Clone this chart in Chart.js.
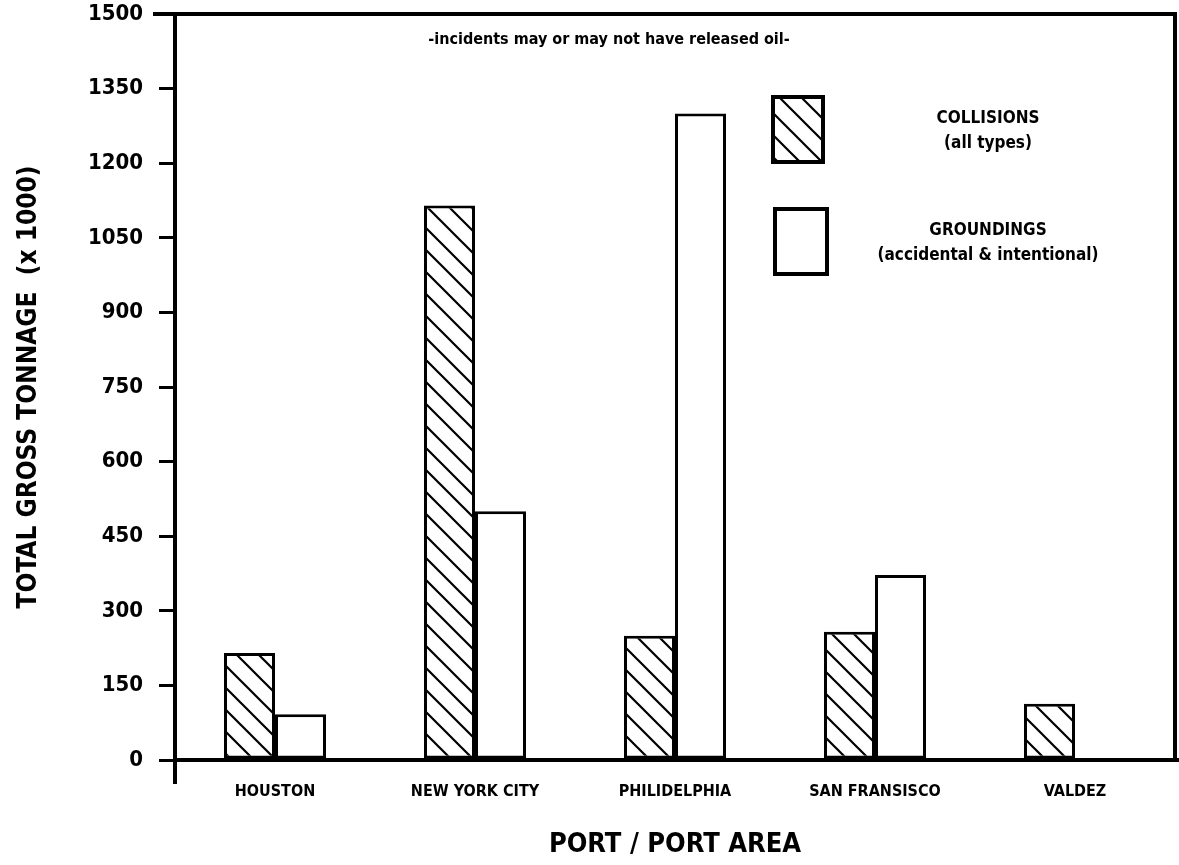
<!DOCTYPE html>
<html>
<head>
<meta charset="utf-8">
<script src="https://cdn.jsdelivr.net/npm/chart.js@4.4.0/dist/chart.umd.min.js"></script>
<style>
  html, body { margin: 0; padding: 0; background: #fff; }
</style>
</head>
<body>
<canvas id="chart" width="1179" height="865"></canvas>
<script>
// data (values in 1000s of gross tons)
const ports = ['HOUSTON', 'NEW YORK CITY', 'PHILIDELPHIA', 'SAN FRANSISCO', 'VALDEZ'];
const collisions = [215, 1115, 250, 258, 113];
const groundings = [92, 500, 1300, 372, 0];
const yTicks = [0, 150, 300, 450, 600, 750, 900, 1050, 1200, 1350, 1500];
const collisionsLabel = ['COLLISIONS', '(all types)'];
const groundingsLabel = ['GROUNDINGS', '(accidental & intentional)'];
const note = '-incidents may or may not have released oil-';

const FONT = "'Liberation Sans Narrow', 'DejaVu Sans Condensed', 'Roboto Condensed', sans-serif";

function initChart() {
    const canvas = document.getElementById('chart');
    const ctx = canvas.getContext('2d');

    // diagonal "\\\" hatch like the original
    const tile = document.createElement('canvas');
    tile.width = tile.height = 22;
    const g = tile.getContext('2d');
    g.fillStyle = '#fff'; g.fillRect(0, 0, 22, 22);
    g.strokeStyle = '#000'; g.lineWidth = 2.2;
    g.beginPath();
    g.moveTo(-3, -3); g.lineTo(25, 25);
    g.moveTo(-3, 19); g.lineTo(3, 25);
    g.moveTo(19, -3); g.lineTo(25, 3);
    g.stroke();
    const hatch = ctx.createPattern(tile, 'repeat');

    // frame, note text and the in-plot legend
    const decor = {
        id: 'decor',
        afterDraw(chart) {
            const c = chart.ctx, a = chart.chartArea;
            c.save();
            c.strokeStyle = '#000'; c.lineWidth = 4;
            c.beginPath();
            c.moveTo(a.left - 22, a.top); c.lineTo(a.right, a.top); c.lineTo(a.right, a.bottom);
            c.moveTo(a.right, a.bottom); c.lineTo(chart.width, a.bottom);
            c.moveTo(a.left, a.bottom); c.lineTo(a.left, a.bottom + 24);
            c.stroke();

            c.fillStyle = '#000';
            c.textAlign = 'center'; c.textBaseline = 'middle';
            c.font = 'bold 16px ' + FONT;
            c.fillText(note, 609, 40);

            const ds = chart.data.datasets;
            const boxes = [[773, 97, 50, 65], [775, 209, 52, 65]];
            const labels = [collisionsLabel, groundingsLabel];
            boxes.forEach(([x, y, w, h], i) => {
                c.fillStyle = ds[i].backgroundColor;
                c.fillRect(x, y, w, h);
                c.lineWidth = 4; c.strokeStyle = '#000';
                c.strokeRect(x, y, w, h);
                c.fillStyle = '#000';
                c.font = 'bold 17px ' + FONT;
                c.fillText(labels[i][0], 988, y + 22);
                c.fillText(labels[i][1], 988, y + 47);
            });
            c.restore();
        }
    };

    new Chart(ctx, {
        type: 'bar',
        data: {
            labels: ports,
            datasets: [
                { label: collisionsLabel.join(' '), data: collisions, backgroundColor: hatch,
                  borderColor: '#000', borderWidth: 3, borderSkipped: false },
                { label: groundingsLabel.join(' '), data: groundings, backgroundColor: '#fff',
                  borderColor: '#000', borderWidth: 3, borderSkipped: false }
            ]
        },
        options: {
            responsive: false,
            animation: false,
            devicePixelRatio: 1,
            categoryPercentage: 0.51,
            barPercentage: 1.0,
            layout: { padding: { top: 14, right: 4, left: 0, bottom: 0 } },
            plugins: { legend: { display: false }, tooltip: { enabled: false } },
            scales: {
                x: {
                    afterFit: s => { s.height = 105; s.paddingLeft = 0; s.paddingRight = 0; },
                    grid: { display: false, drawTicks: false },
                    border: { display: true, color: '#000', width: 4 },
                    ticks: { color: '#000', padding: 22, maxRotation: 0,
                             font: { family: FONT, size: 16, weight: 'bold' } },
                    title: { display: true, text: 'PORT / PORT AREA', color: '#000',
                             padding: { top: 0, bottom: 4 },
                             font: { family: FONT, size: 27, weight: 'bold' } }
                },
                y: {
                    min: 0, max: 1500,
                    afterFit: s => { s.width = 175; s.paddingTop = 0; s.paddingBottom = 0; },
                    afterBuildTicks: s => { s.ticks = yTicks.map(v => ({ value: v })); },
                    grid: { drawOnChartArea: false, drawTicks: true, tickLength: 16,
                            color: '#000', lineWidth: 3 },
                    border: { display: true, color: '#000', width: 4 },
                    ticks: { color: '#000', padding: 16, callback: v => String(v),
                             font: { family: FONT, size: 22, weight: 'bold' } },
                    title: { display: true, text: 'TOTAL GROSS TONNAGE  (x 1000)', color: '#000',
                             padding: { top: 14, bottom: 0 },
                             font: { family: FONT, size: 26, weight: 'bold' } }
                }
            }
        },
        plugins: [decor]
    });
}
requestAnimationFrame(initChart);
</script>
</body>
</html>
